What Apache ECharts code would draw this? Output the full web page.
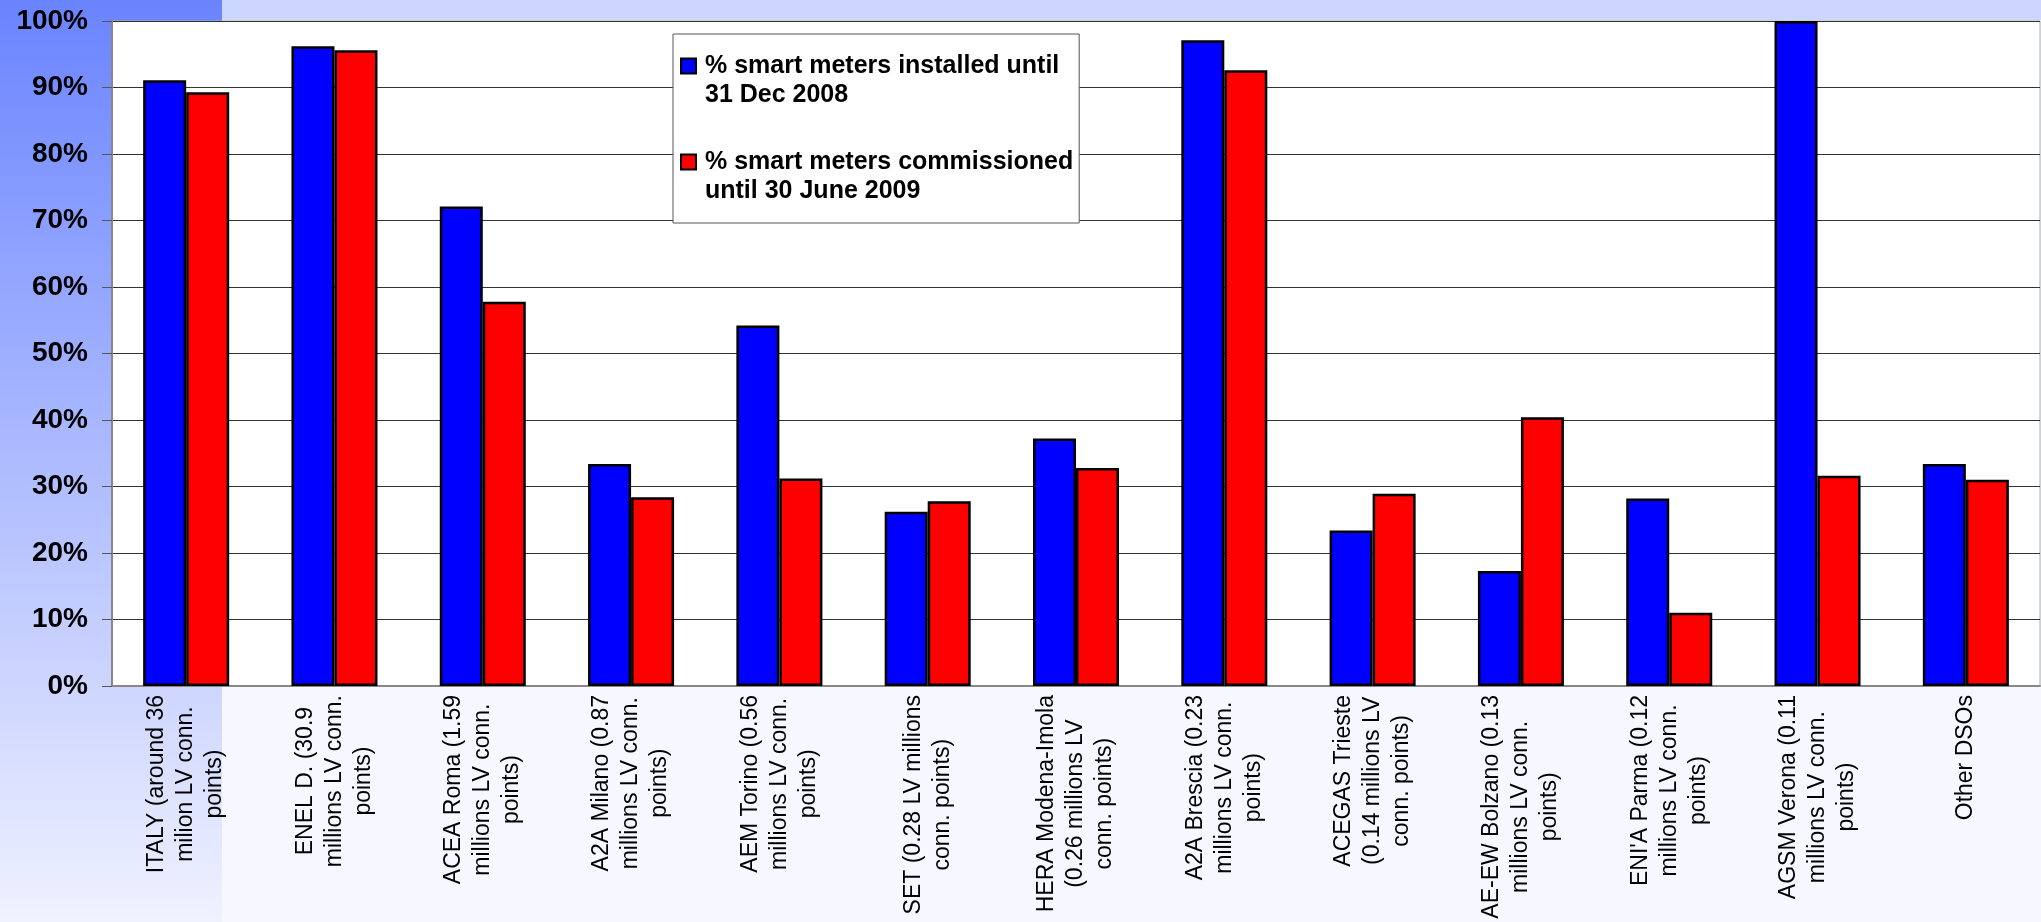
<!DOCTYPE html>
<html>
	<head>
		<meta charset="utf-8">
		<title>Smart meters</title>
		<script src="https://cdn.jsdelivr.net/npm/echarts@6.0.0/dist/echarts.min.js"></script>
		<style>
			* {
				margin: 0;
				padding: 0
			}
			html,
			body {
				width: 100%;
				height: 100%;
			}
			#main {
				width: 2041px;
				height: 922px;
			}
		</style>
	</head>
	<body>
		<div id="main"></div>
		<script>
			// categories (DSOs), one line per label row
			var categories = [
				'ITALY (around 36\nmilion LV conn.\npoints)',
				'ENEL D. (30.9\nmillions LV conn.\npoints)',
				'ACEA Roma (1.59\nmillions LV conn.\npoints)',
				'A2A Milano (0.87\nmillions LV conn.\npoints)',
				'AEM Torino (0.56\nmillions LV conn.\npoints)',
				'SET (0.28 LV millions\nconn. points)',
				'HERA Modena-Imola\n(0.26 millions LV\nconn. points)',
				'A2A Brescia (0.23\nmillions LV conn.\npoints)',
				'ACEGAS Trieste\n(0.14 millions LV\nconn. points)',
				'AE-EW Bolzano (0.13\nmillions LV conn.\npoints)',
				'ENI\'A Parma (0.12\nmillions LV conn.\npoints)',
				'AGSM Verona (0.11\nmillions LV conn.\npoints)',
				'Other DSOs'
			];
			var seriesNames = [
				'% smart meters installed until\n31 Dec 2008',
				'% smart meters commissioned\nuntil 30 June 2009'
			];
			// values in %
			var installed = [91.1, 96.2, 72.1, 33.4, 54.2, 26.2, 37.2, 97.1, 23.4, 17.3, 28.2, 100, 33.4];
			var commissioned = [89.3, 95.6, 57.8, 28.4, 31.2, 27.8, 32.8, 92.6, 28.9, 40.4, 11.0, 31.6, 31.0];
			var yMin = 0;
			var yMax = 100;
			var yStep = 10;

			var font = '"Liberation Sans", Arial, sans-serif';
			var chart = echarts.init(document.getElementById('main'));

			chart.setOption({
				animation: false,
				textStyle: {
					fontFamily: font
				},
				// background panels of the slide
				graphic: [{
					type: 'rect',
					z: -10,
					silent: true,
					shape: { x: 0, y: 0, width: 2041, height: 922 },
					style: { fill: '#f7f8ff' }
				}, {
					type: 'rect',
					z: -10,
					silent: true,
					shape: { x: 222, y: 0, width: 1819, height: 20 },
					style: { fill: '#ccd6ff' }
				}, {
					type: 'rect',
					z: -10,
					silent: true,
					shape: { x: 0, y: 0, width: 222, height: 922 },
					style: {
						fill: new echarts.graphic.LinearGradient(0, 0, 0, 1, [
							{ offset: 0, color: '#6a84ff' },
							{ offset: 1, color: '#f0f2ff' }
						])
					}
				}],
				grid: {
					left: 112,
					right: 1,
					top: 21,
					bottom: 236,
					show: true,
					backgroundColor: '#fff',
					borderColor: '#aaa',
					borderWidth: 1,
					containLabel: false,
					outerBoundsMode: 'none'
				},
				legend: {
					orient: 'vertical',
					left: 673,
					top: 34,
					padding: [17, 6, 17, 7],
					itemGap: 37,
					itemWidth: 19,
					itemHeight: 44,
					// square sits on the first text line
					icon: 'path://M0,0H15V15H0Z M19,44',
					selectedMode: false,
					backgroundColor: '#fff',
					borderColor: '#555',
					borderWidth: 1,
					borderRadius: 0,
					itemStyle: {
						borderColor: '#000',
						borderWidth: 2
					},
					textStyle: {
						fontFamily: font,
						fontSize: 25,
						fontWeight: 'bold',
						lineHeight: 29.5,
						color: '#000'
					},
					data: seriesNames
				},
				xAxis: {
					type: 'category',
					data: categories,
					axisLine: {
						lineStyle: { color: '#888', width: 2 }
					},
					axisTick: {
						length: 7,
						lineStyle: { color: '#555' }
					},
					axisLabel: {
						interval: 0,
						rotate: 90,
						margin: 9,
						formatter: function(v) {
							return v.split('\n').map(function(s) {
								return '{c|' + s + '}';
							}).join('\n');
						},
						rich: {
							c: {
								align: 'center',
								fontFamily: font,
								fontSize: 23,
								lineHeight: 29,
								color: '#000'
							}
						}
					}
				},
				yAxis: {
					type: 'value',
					min: yMin,
					max: yMax,
					interval: yStep,
					axisLine: {
						show: true,
						lineStyle: { color: '#888', width: 2 }
					},
					axisTick: {
						show: true,
						length: 10,
						lineStyle: { color: '#555' }
					},
					axisLabel: {
						margin: 24,
						fontFamily: font,
						fontSize: 28,
						fontWeight: 'bold',
						color: '#000',
						formatter: '{value}%'
					},
					splitLine: {
						lineStyle: { color: '#333', width: 1 }
					}
				},
				series: [{
					name: seriesNames[0],
					type: 'bar',
					data: installed,
					barGap: '0%',
					barCategoryGap: '42%',
					silent: true,
					itemStyle: {
						color: '#0000ff',
						borderColor: '#000',
						borderWidth: 2.5
					}
				}, {
					name: seriesNames[1],
					type: 'bar',
					data: commissioned,
					barGap: '0%',
					barCategoryGap: '42%',
					silent: true,
					itemStyle: {
						color: '#ff0000',
						borderColor: '#000',
						borderWidth: 2.5
					}
				}]
			});
		</script>
	</body>
</html>
